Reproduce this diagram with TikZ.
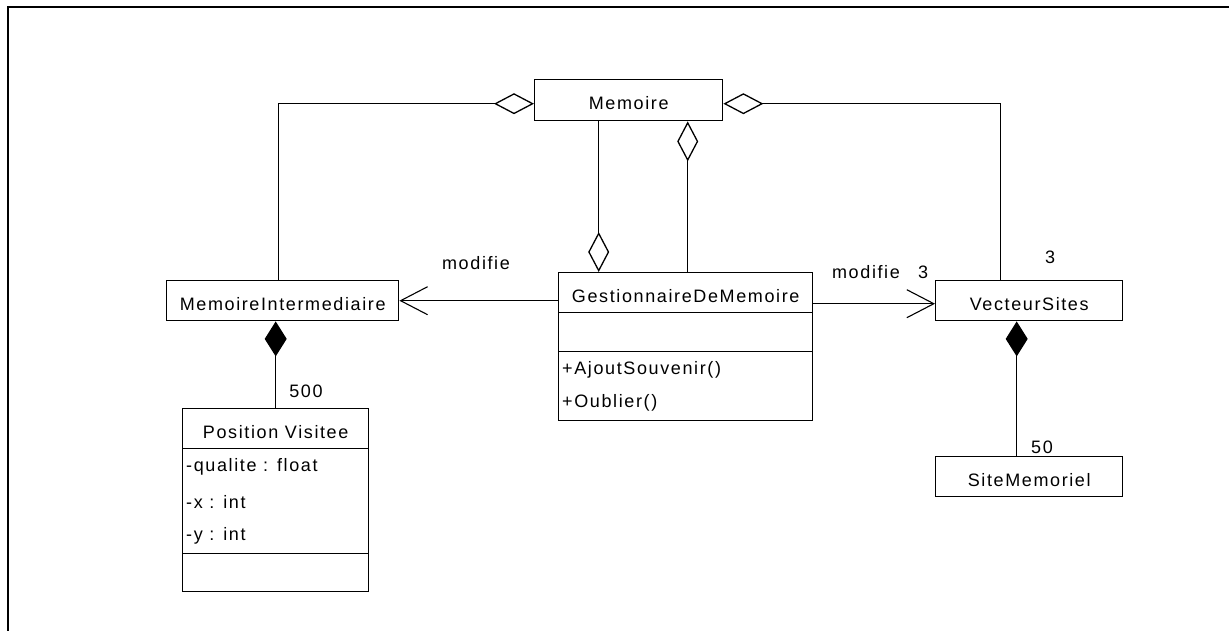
\documentclass[tikz,border=0pt]{standalone}
\usepackage{fontspec}
\setmainfont{Liberation Sans}[LetterSpace=9]
\usetikzlibrary{arrows.meta}
\begin{document}
\begin{tikzpicture}[x=1pt,y=-1pt,
  txt/.style={font=\fontsize{18}{21}\selectfont, inner sep=0pt},
  box/.style={draw, line width=1.4pt, anchor=north west, inner sep=0pt,
    font=\fontsize{18}{21}\selectfont, text height=18.9pt, text depth=0pt},
  agg/.style={line width=1.3pt, line join=miter, -{Diamond[open, fill=white, length=40pt, width=21pt]}},
  comp/.style={line width=1.3pt, -{Diamond[length=35pt, width=22pt]}},
  dep/.style={line width=1.3pt, -{Straight Barb[length=27pt, width=28pt, line width=1.1pt]}}
]
\fill[white] (0,0) rectangle (1229,630);
\useasboundingbox (0,0) rectangle (1229,630);
\draw[line width=2.5pt] (8,631) -- (8,7.2) -- (1230,7.2);

% classes
\node[box, minimum width=188pt, minimum height=41pt] (mem) at (534,79) {Memoire};
\node[box, minimum width=254pt, minimum height=40pt] (gh) at (558,272) {GestionnaireDeMemoire};
\node[box, minimum width=254pt, minimum height=39pt] (ga) at (558,312) {};
\node[box, minimum width=254pt, minimum height=69pt] (gm) at (558,351) {};
\node[txt, anchor=west] (m1) at (562,370) {+AjoutSouvenir()};
\node[txt, anchor=west] (m2) at (562,403) {+Oublier()};
\node[box, minimum width=232pt, minimum height=40pt] (mi) at (166,280) {MemoireIntermediaire};
\node[box, minimum width=187pt, minimum height=40pt] (vs) at (935,280) {VecteurSites};
\node[box, minimum width=187pt, minimum height=40pt] (sm) at (935,456) {SiteMemoriel};
\node[box, minimum width=186pt, minimum height=40pt] (pvh) at (182,408) {Position Visitee};
\node[box, minimum width=186pt, minimum height=105pt] (pva) at (182,448) {};
\node[box, minimum width=186pt, minimum height=38pt] (pvo) at (182,553) {};
\node[txt, anchor=west] (a1) at (186,467) {-qualite : float};
\node[txt, anchor=west] (a2) at (186,502) {-x : int};
\node[txt, anchor=west] (a3) at (186,536) {-y : int};

% labels
\node[txt] (lm1) at (476,263) {modifie};
\node[txt] (lm2) at (866,272) {modifie};
\node[txt] (l3a) at (923,272) {3};
\node[txt] (l3b) at (1050,257) {3};
\node[txt] (l500) at (306,391) {500};
\node[txt] (l50) at (1042,447) {50};

% connectors
\draw[agg] ([xshift=-4pt]mi.north) |- ([yshift=-3.5pt]mem.west);
\draw[agg] ([xshift=-28.5pt]vs.north) |- ([yshift=-3.5pt]mem.east);
\draw[agg] ([xshift=-30pt]mem.south) -- ([xshift=-87pt]gh.north);
\draw[agg] ([xshift=2pt]gh.north) -- ([xshift=2pt]gh.north |- mem.south);
\draw[dep] (gh.west |- mi.east) -- (mi.east);
\draw[dep] ([yshift=-3pt]vs.west -| gh.east) -- ([yshift=-3pt]vs.west);
\draw[comp] (pvh.north) -- (pvh.north |- mi.south);
\draw[comp] ([xshift=-12.5pt]sm.north) -- ([xshift=-12.5pt]sm.north |- vs.south);
\end{tikzpicture}
\end{document}
